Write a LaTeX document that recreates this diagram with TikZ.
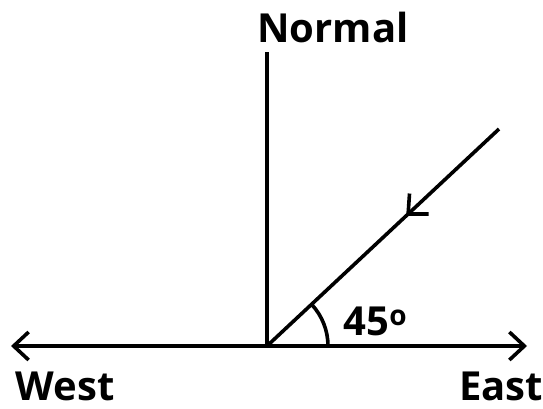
\documentclass[tikz,border=0pt]{standalone}
\usepackage{fontspec}
\setmainfont{Open Sans}
\usetikzlibrary{arrows.meta,decorations.markings}
\tikzset{barb/.tip={Straight Barb[length=15pt, width=28pt]}}

\begin{document}
\begin{tikzpicture}[x=1pt, y=1pt, line width=3.6pt,
    label/.style={font=\fontsize{40}{40}\selectfont\bfseries, inner sep=0pt, anchor=base}]
    \useasboundingbox (0, 0) rectangle (543, 408);
    \coordinate (O) at (267, 62);
    \coordinate (W) at (11, 62);
    \coordinate (E) at (527, 62);
    \coordinate (N) at (267, 356);
    \coordinate (R) at (499, 279);
    \draw[barb-barb] (W) -- (E);
    \draw (O) -- (N);
    \draw[postaction={decorate}, decoration={markings,
      mark=at position 0.4 with {\arrow{barb}}}] (R) -- (O);
    \draw (O) ++(0:61) arc(0:43:61);
    \node[label] (normal) at (333, 366) {Normal};
    \node[label] (west) at (65, 8) {West};
    \node[label] (east) at (501, 8) {East};
    \node[label, anchor=base west] (angle) at (342, 73) {45$^{\mathbf{o}}$};
  \end{tikzpicture}
\end{document}
